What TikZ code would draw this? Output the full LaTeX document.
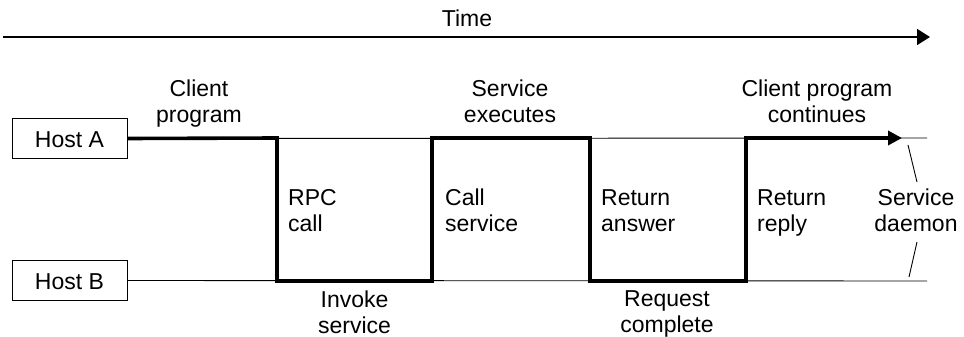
\documentclass[tikz,border=0pt]{standalone}
\usepackage{fontspec}
\setmainfont{Liberation Sans}
\usetikzlibrary{arrows.meta}
\begin{document}
\begin{tikzpicture}[x=1pt,y=-1pt,
  lbl/.style={font=\fontsize{23}{26}\selectfont, align=center, inner sep=0pt,
    execute at begin node=\strut, execute at end node=\strut},
  lbll/.style={lbl, align=left, anchor=west},
  hostbox/.style={draw, line width=0.9pt, minimum width=115pt, minimum height=40pt, font=\fontsize{23}{26}\selectfont, inner sep=0pt, text height=17pt, text depth=0pt},
  thin/.style={line width=0.9pt},
  thick/.style={line width=3.6pt, line join=miter, line cap=butt}
]
\useasboundingbox (0,0) rectangle (964,337);
% time axis
\coordinate (t0) at (3,37);
\coordinate (t1) at (930,37);
\draw[line width=1.8pt, -{Triangle[length=13pt,width=16pt]}] (t0) -- (t1);
\node[lbl] (time) at (467,21.8) {Time};
% hosts
\node[hostbox] (ha) at (69.5,138.5) {Host A};
\node[hostbox] (hb) at (69.5,280.5) {Host B};
\coordinate (aend) at (927,138);
\coordinate (bend) at (927,281);
\draw[thin] (ha.east) -- (aend);
\draw[thin] (hb.east) -- (bend);
% thick flow
\coordinate (p1) at (277,138);
\coordinate (p2) at (277,281);
\coordinate (p3) at (432,281);
\coordinate (p4) at (432,138);
\coordinate (p5) at (590,138);
\coordinate (p6) at (590,281);
\coordinate (p7) at (746,281);
\coordinate (p8) at (746,138);
\coordinate (p9) at (902,138);
\draw[thick, -{Triangle[length=14pt,width=14pt]}] (ha.east) -- (p1) -- (p2) -- (p3) -- (p4) -- (p5) -- (p6) -- (p7) -- (p8) -- (p9);
% labels above
\node[lbl] (l1) at (199,105.5) {Client\\program};
\node[lbl] (l2) at (510,105.5) {Service\\executes};
\node[lbl] (l3) at (817,105.5) {Client program\\continues};
% labels inside
\node[lbll] (m1) at (288,214) {RPC\\call};
\node[lbll] (m2) at (445,214) {Call\\service};
\node[lbll] (m3) at (601,214) {Return\\answer};
\node[lbll] (m4) at (757,214) {Return\\reply};
% labels below
\node[lbl] (b1) at (354.5,315.8) {Invoke\\service};
\node[lbl] (b2) at (667,315.8) {Request\\complete};
% service daemon
\node[lbl] (sd) at (916,214.5) {Service\\daemon};
\coordinate (s1) at (908,145);
\coordinate (s2) at (917,182);
\coordinate (s3) at (917,242);
\coordinate (s4) at (909,277);
\draw[thin] (s1) -- (s2);
\draw[thin] (s3) -- (s4);
\end{tikzpicture}
\end{document}
